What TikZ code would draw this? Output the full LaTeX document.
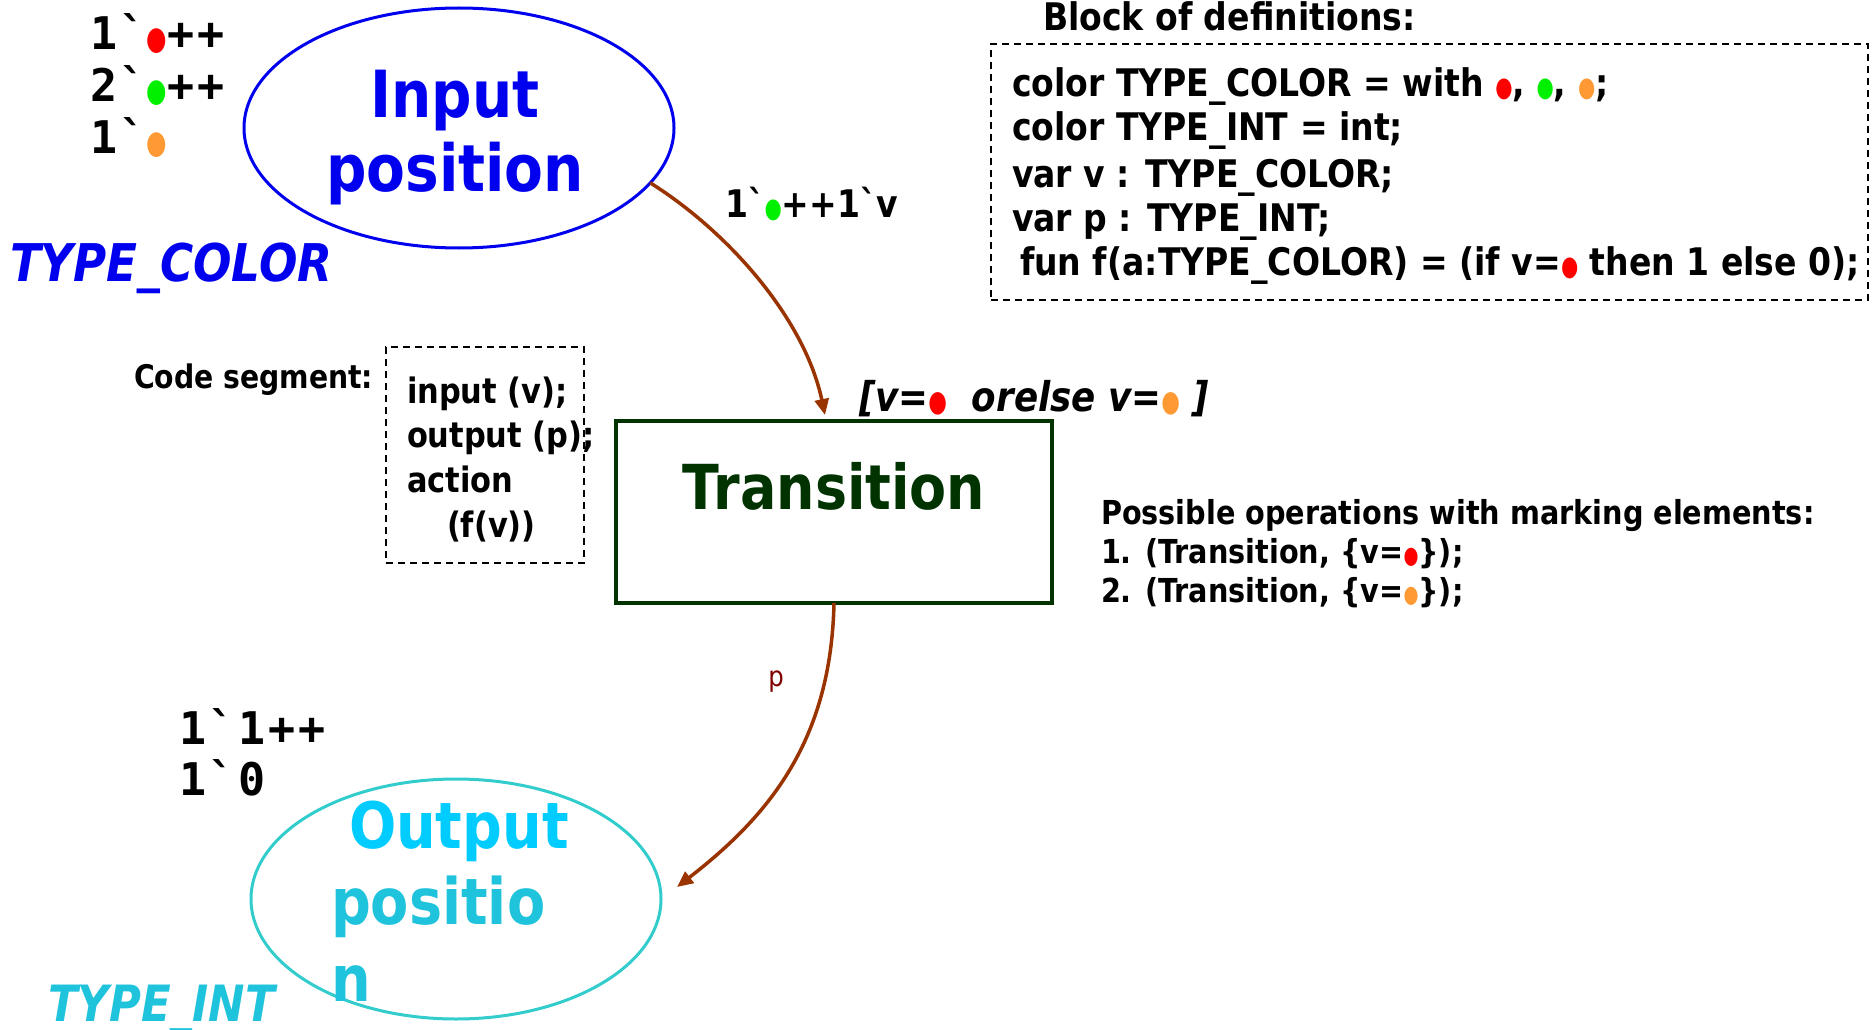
\documentclass[tikz,border=0pt]{standalone}
\usepackage{fontspec}
\setmainfont{DejaVu Sans}[FakeStretch=0.87]
\newfontfamily\monof{DejaVu Sans Mono}[LetterSpace=6]
\newfontfamily\plainf{DejaVu Sans}[FakeStretch=0.87]
\usetikzlibrary{shapes.geometric,arrows.meta}
\definecolor{dotred}{RGB}{255,0,0}
\definecolor{dotgreen}{RGB}{0,240,0}
\definecolor{dotorange}{RGB}{255,153,51}
\definecolor{inblue}{RGB}{0,0,238}
\definecolor{trgreen}{RGB}{0,51,0}
\definecolor{arcbrown}{RGB}{153,51,0}
\definecolor{outcyan}{RGB}{0,204,255}
\definecolor{outteal}{RGB}{31,195,220}
\definecolor{ellteal}{RGB}{51,204,204}
\definecolor{pred}{RGB}{128,0,0}
\newcommand\fs[1]{\fontsize{#1}{#1}\selectfont}
\newcommand\bq{{\plainf\bfseries\char96\relax}}
\newcommand\dotc[1]{{\rmfamily\textcolor{#1}{\scalebox{0.6}[0.72]{●}}}}
\begin{document}
\begin{tikzpicture}[x=1pt,y=-1pt,
  every node/.style={inner sep=0pt,outer sep=0pt},
  txt/.style={anchor=base west,font=\bfseries\fs{#1}},
  mk/.style={anchor=base west,font=\monof\bfseries\fs{45}},
  dashbox/.style={draw,line width=1.8pt,dash pattern=on 7pt off 5pt},
  arc/.style={draw=arcbrown,line width=3.5pt,-{Triangle[length=16pt,width=14pt]}}]
\useasboundingbox (0,0) rectangle (1875,1030);

% Input position
\node[ellipse,draw=inblue,line width=3pt,minimum width=430pt,minimum height=240pt] (inp) at (459,128) {};
\node[anchor=base,font=\bfseries\fs{65},text=inblue] (inpA) at (455,118) {Input};
\node[anchor=base,font=\bfseries\fs{65},text=inblue] (inpB) at (455,191) {position};
\node[mk] (m1) at (90,50) {1{\monof`}\dotc{dotred}++};
\node[mk] (m2) at (90,102) {2{\monof`}\dotc{dotgreen}++};
\node[mk] (m3) at (90,154) {1{\monof`}\dotc{dotorange}};
\node[anchor=base west,font=\bfseries\itshape\fs{52},text=inblue] (tc) at (10,281) {TYPE\_COLOR};

% Block of definitions
\node[txt=38] (bdt) at (1043,31) {Block of definitions:};
\node[dashbox,minimum width=877pt,minimum height=256pt] (bd) at (1429.5,172) {};
\node[txt=38] (d1) at (1012,97) {color TYPE\_COLOR = with \dotc{dotred}, \dotc{dotgreen}, \dotc{dotorange};};
\node[txt=38] (d2) at (1012,141) {color TYPE\_INT = int;};
\node[txt=38] (d3) at (1012,187) {var v : TYPE\_COLOR;};
\node[txt=38] (d4) at (1012,231) {var p : TYPE\_INT;};
\node[txt=38] (d5) at (1020,275) {fun f(a:TYPE\_COLOR) = (if v=\dotc{dotred} then 1 else 0);};

% arc label
\node[txt=38] (al) at (725,218) {1\bq\dotc{dotgreen}++1\bq v};

% Code segment
\node[txt=32.5] (cst) at (134,388) {Code segment:};
\node[dashbox,minimum width=198pt,minimum height=216pt] (cs) at (485,455) {};
\node[txt=35] (c1) at (407,403) {input (v);};
\node[txt=35] (c2) at (407,447) {output (p);};
\node[txt=35] (c3) at (407,492) {action};
\node[txt=35] (c4) at (447,537) {(f(v))};

% Transition
\node[draw=trgreen,line width=4pt,minimum width=436pt,minimum height=182pt] (tr) at (834,512) {};
\node[anchor=base,font=\bfseries\fs{62},text=trgreen] (trt) at (834,509) {Transition};
\node[anchor=base west,font=\bfseries\itshape\fs{41}] (grd) at (859,411) {[v=\dotc{dotred}\ \ orelse v=\dotc{dotorange}\ ]};

% Possible operations
\node[txt=33] (po) at (1101,524) {Possible operations with marking elements:};
\node[txt=33] (po1) at (1101,563) {1. (Transition, \{v=\dotc{dotred}\});};
\node[txt=33] (po2) at (1101,602) {2. (Transition, \{v=\dotc{dotorange}\});};

% Output position
\node[ellipse,draw=ellteal,line width=3pt,minimum width=410pt,minimum height=240pt] (out) at (456,899) {};
\node[anchor=base west,font=\bfseries\fs{64},text=outcyan] (outA) at (349,848) {Output};
\node[anchor=base west,font=\bfseries\fs{64},text=outteal] (outB) at (331,924) {positio};
\node[anchor=base west,font=\bfseries\fs{64},text=outteal] (outC) at (331,1001) {n};
\node[anchor=base west,font=\bfseries\itshape\fs{50},text=outteal] (ti) at (48,1021) {TYPE\_INT};
\node[mk] (o1) at (179,744) {1{\monof`}1++};
\node[mk] (o2) at (179,795) {1{\monof`}0};

% arcs
\coordinate (a1end) at (825,415);
\draw[arc] (inp.-16) .. controls (730,233) and (805,320) .. (a1end);
\coordinate (a2end) at (677,887);
\draw[arc] (tr.south) .. controls (831,740) and (770,815) .. (a2end);
\node[anchor=base,font=\fs{28},text=pred] (pl) at (776,686) {p};
\end{tikzpicture}
\end{document}
